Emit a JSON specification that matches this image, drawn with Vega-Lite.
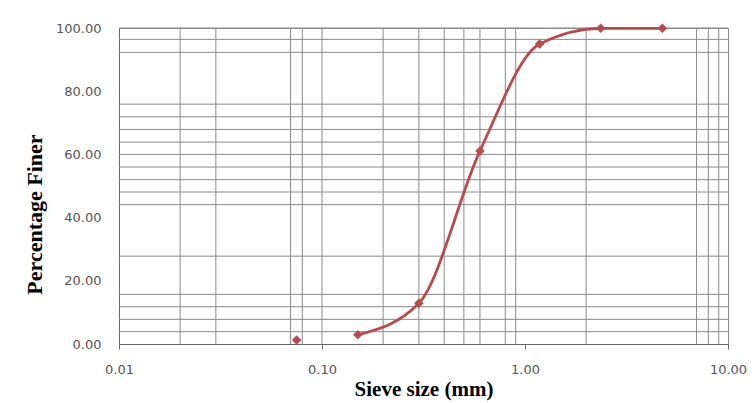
{
  "$schema": "https://vega.github.io/schema/vega-lite/v6.json",
  "width": 609,
  "height": 316,
  "autosize": {"type": "none"},
  "padding": {"left": 119, "top": 28, "right": 24, "bottom": 59},
  "background": "white",
  "config": {"view": {"stroke": "#8a8a8a", "strokeWidth": 1}},
  "datasets": {
    "sieve": [
      {"size": 0.075, "finer": 1.3},
      {"size": 0.15, "finer": 2.9},
      {"size": 0.3, "finer": 12.9},
      {"size": 0.6, "finer": 61.1},
      {"size": 1.18, "finer": 94.9},
      {"size": 2.36, "finer": 99.9},
      {"size": 4.75, "finer": 99.9}
    ],
    "vgrid": [
      {"x": 0.02}, {"x": 0.03}, {"x": 0.07}, {"x": 0.08}, {"x": 0.1},
      {"x": 0.2}, {"x": 0.3}, {"x": 0.4}, {"x": 0.5}, {"x": 0.6},
      {"x": 0.8}, {"x": 0.9}, {"x": 2}, {"x": 7}, {"x": 8}, {"x": 9}
    ],
    "hgrid": [
      {"y": 3.9}, {"y": 7.8}, {"y": 11.8}, {"y": 15.7}, {"y": 27.8},
      {"y": 44.1}, {"y": 48.1}, {"y": 52.0}, {"y": 56.0}, {"y": 60.0},
      {"y": 63.9}, {"y": 67.9}, {"y": 71.9}, {"y": 75.9}, {"y": 92.3},
      {"y": 96.4}, {"y": 100}
    ]
  },
  "layer": [
    {
      "data": {"name": "vgrid"},
      "mark": {"type": "rule", "color": "#8a8a8a", "strokeWidth": 1},
      "encoding": {
        "x": {"field": "x", "type": "quantitative", "scale": {"type": "log", "domain": [0.01, 10]}}
      }
    },
    {
      "data": {"name": "hgrid"},
      "mark": {"type": "rule", "color": "#8a8a8a", "strokeWidth": 1},
      "encoding": {
        "y": {"field": "y", "type": "quantitative", "scale": {"domain": [0, 100]}}
      }
    },
    {
      "data": {"name": "sieve"},
      "transform": [{"filter": "datum.size >= 0.15"}],
      "mark": {"type": "line", "color": "#B84A4A", "strokeWidth": 2.8, "interpolate": "monotone"},
      "encoding": {
        "x": {"field": "size", "type": "quantitative"},
        "y": {"field": "finer", "type": "quantitative"}
      }
    },
    {
      "data": {"name": "sieve"},
      "mark": {"type": "point", "shape": "diamond", "filled": true, "color": "#B84A4A", "size": 90, "opacity": 1},
      "encoding": {
        "x": {
          "field": "size", "type": "quantitative",
          "scale": {"type": "log", "domain": [0.01, 10]},
          "axis": {
            "values": [0.01, 0.1, 1, 10], "format": ".2f", "grid": false,
            "title": "Sieve size (mm)", "titleFont": "Liberation Serif", "titleFontWeight": "bold",
            "titleFontSize": 21, "titleColor": "#000", "titleY": 45, "titleBaseline": "middle",
            "labelFont": "DejaVu Sans", "labelFontSize": 13, "labelColor": "#555",
            "labelPadding": 14, "tickSize": 5, "tickColor": "#666", "domainColor": "#666",
            "labelFlush": false
          }
        },
        "y": {
          "field": "finer", "type": "quantitative",
          "scale": {"domain": [0, 100]},
          "axis": {
            "values": [0, 20, 40, 60, 80, 100], "format": ".2f", "grid": false,
            "title": "Percentage Finer", "titleFont": "Liberation Serif", "titleFontWeight": "bold",
            "titleFontSize": 22, "titleColor": "#000", "titleX": -85, "titleY": 186,
            "titleBaseline": "middle", "titleAngle": -90,
            "labelFont": "DejaVu Sans", "labelFontSize": 13, "labelColor": "#555",
            "ticks": false, "labelPadding": 18, "domainColor": "#666"
          }
        }
      }
    }
  ]
}
